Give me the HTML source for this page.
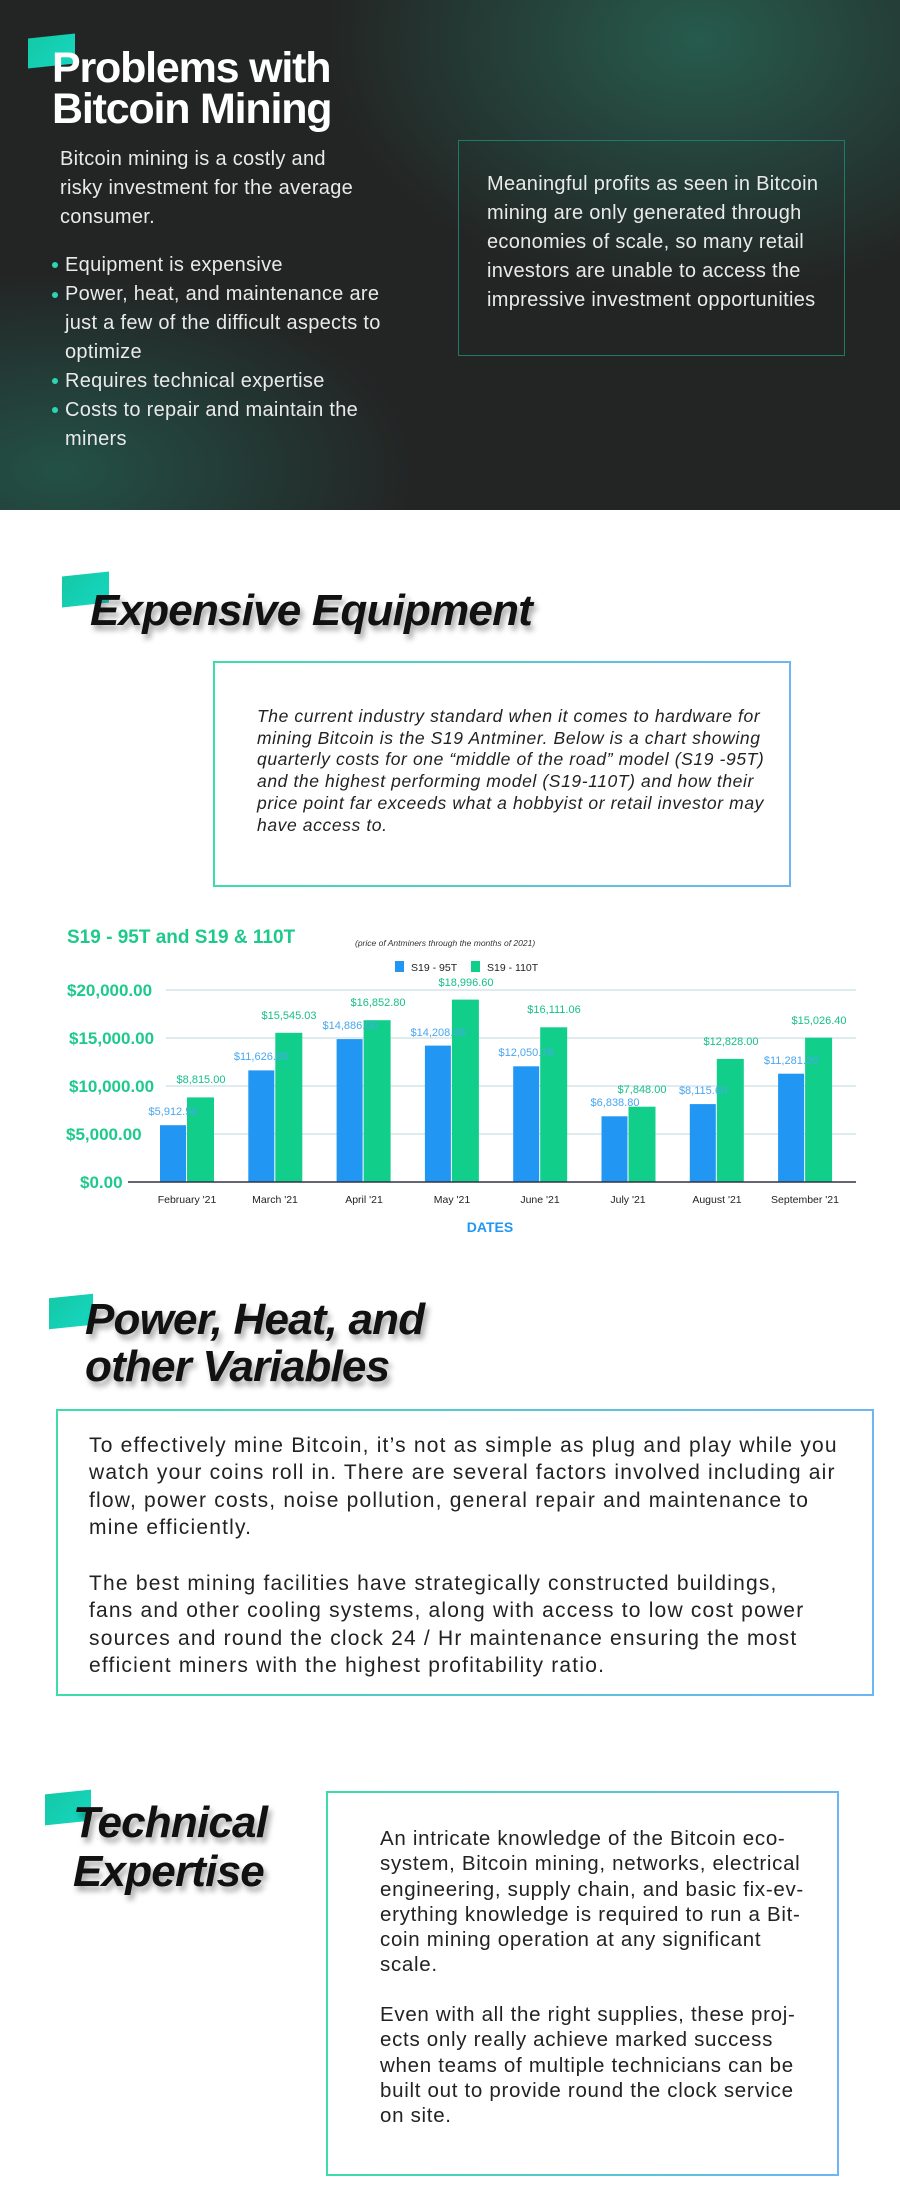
<!DOCTYPE html>
<html><head><meta charset="utf-8"><style>
*{margin:0;padding:0;box-sizing:border-box}
body{width:900px;height:2200px;position:relative;background:#fff;font-family:"Liberation Sans",sans-serif;overflow:hidden}
.a{position:absolute;white-space:nowrap}
.dark{position:absolute;left:0;top:0;width:900px;height:510px;background:
radial-gradient(ellipse 380px 260px at 700px 40px,rgba(40,110,90,.75),rgba(40,110,90,0) 100%),
radial-gradient(ellipse 360px 200px at 60px 470px,rgba(35,100,85,.7),rgba(35,100,85,0) 100%),#232424}
.t{color:#eaeaea;font-size:20px;letter-spacing:0.3px}
.h1{color:#fff;font-weight:bold;font-size:43px;letter-spacing:-1.2px}
.hh{color:#111;font-weight:bold;font-style:italic;font-size:44px;letter-spacing:-0.8px;text-shadow:3px 5px 6px rgba(0,0,0,.35)}
.box{position:absolute;border:2px solid;border-image:linear-gradient(90deg,#3ddcaa,#6cb6f5) 1}
.p{color:#222;font-size:21px;letter-spacing:1.2px}
.dot{position:absolute;width:6px;height:6px;border-radius:50%;background:#2ad6b4}
.tl{position:absolute;background:linear-gradient(135deg,#14c9a6,#16d6c0);transform:skewY(-6deg)}
</style></head><body>
<div class="dark"></div>
<div class="tl" style="left:28px;top:36px;width:47px;height:30px"></div>
<div class="a h1" style="left:52px;top:44px">Problems with</div>
<div class="a h1" style="left:52px;top:85px">Bitcoin Mining</div>
<div class="a t" style="left:60px;top:148px">Bitcoin mining is a costly and</div>
<div class="a t" style="left:60px;top:177px">risky investment for the average</div>
<div class="a t" style="left:60px;top:206px">consumer.</div>
<div class="dot" style="left:52px;top:262px"></div>
<div class="a t" style="left:65px;top:254px">Equipment is expensive</div>
<div class="dot" style="left:52px;top:292px"></div>
<div class="a t" style="left:65px;top:283px">Power, heat, and maintenance are</div>
<div class="a t" style="left:65px;top:312px">just a few of the difficult aspects to</div>
<div class="a t" style="left:65px;top:341px">optimize</div>
<div class="dot" style="left:52px;top:378px"></div>
<div class="a t" style="left:65px;top:370px">Requires technical expertise</div>
<div class="dot" style="left:52px;top:407px"></div>
<div class="a t" style="left:65px;top:399px">Costs to repair and maintain the</div>
<div class="a t" style="left:65px;top:428px">miners</div>
<div class="a" style="left:458px;top:140px;width:387px;height:216px;border:1.5px solid #1f7a66"></div>
<div class="a t" style="left:487px;top:173px">Meaningful profits as seen in Bitcoin</div>
<div class="a t" style="left:487px;top:202px">mining are only generated through</div>
<div class="a t" style="left:487px;top:231px">economies of scale, so many retail</div>
<div class="a t" style="left:487px;top:260px">investors are unable to access the</div>
<div class="a t" style="left:487px;top:289px">impressive investment opportunities</div>

<div class="tl" style="left:62px;top:574px;width:47px;height:31px"></div>
<div class="a hh" style="left:90px;top:586px">Expensive Equipment</div>
<div class="box" style="left:213px;top:661px;width:578px;height:226px"></div>
<div class="a" style="left:257px;top:706px;font-size:17.5px;font-style:italic;color:#222;line-height:21.7px;letter-spacing:0.6px">The current industry standard when it comes to hardware for<br>mining Bitcoin is the S19 Antminer. Below is a chart showing<br>quarterly costs for one “middle of the road” model (S19 -95T)<br>and the highest performing model (S19-110T) and how their<br>price point far exceeds what a hobbyist or retail investor may<br>have access to.</div>

<svg class="a" style="left:0;top:900px" width="900" height="340" viewBox="0 900 900 340" font-family="Liberation Sans, sans-serif">
<g stroke="#d4e6ec" stroke-width="1.5">
<line x1="166" y1="990" x2="856" y2="990"/><line x1="166" y1="1038" x2="856" y2="1038"/><line x1="166" y1="1086" x2="856" y2="1086"/><line x1="166" y1="1134" x2="856" y2="1134"/></g>
<g fill="#1ec98c" font-weight="bold" font-size="17">
<text x="67" y="943" font-size="19">S19 - 95T and S19 &amp; 110T</text>
<text x="67" y="996">$20,000.00</text><text x="69" y="1044">$15,000.00</text><text x="69" y="1092">$10,000.00</text><text x="66" y="1140">$5,000.00</text><text x="80" y="1188">$0.00</text></g>
<text x="355" y="946" font-size="8.5" font-style="italic" fill="#333">(price of Antminers through the months of 2021)</text>
<rect x="395" y="961" width="9" height="11" fill="#2196f3"/><text x="411" y="971" font-size="10.5" fill="#222">S19 - 95T</text>
<rect x="471" y="961" width="9" height="11" fill="#11cf8b"/><text x="487" y="971" font-size="10.5" fill="#222">S19 - 110T</text>
<g fill="#2196f3">
<rect x="160" y="1125.2" width="26" height="56.8"/>
<rect x="248.3" y="1070.4" width="26" height="111.6"/>
<rect x="336.6" y="1039.1" width="26" height="142.9"/>
<rect x="424.9" y="1045.6" width="26" height="136.4"/>
<rect x="513.2" y="1066.3" width="26" height="115.7"/>
<rect x="601.5" y="1116.3" width="26" height="65.7"/>
<rect x="689.8" y="1104.1" width="26" height="77.9"/>
<rect x="778.1" y="1073.7" width="26" height="108.3"/>
</g>
<g fill="#11cf8b">
<rect x="187" y="1097.4" width="27" height="84.6"/>
<rect x="275.3" y="1032.8" width="27" height="149.2"/>
<rect x="363.6" y="1020.2" width="27" height="161.8"/>
<rect x="451.9" y="999.6" width="27" height="182.4"/>
<rect x="540.2" y="1027.3" width="27" height="154.7"/>
<rect x="628.5" y="1106.7" width="27" height="75.3"/>
<rect x="716.8" y="1058.9" width="27" height="123.1"/>
<rect x="805.1" y="1037.7" width="27" height="144.3"/>
</g>
<line x1="128" y1="1182" x2="856" y2="1182" stroke="#334" stroke-width="1.5"/>
<g font-size="11" fill="#4aa6f0" text-anchor="middle">
<text x="173" y="1115">$5,912.50</text>
<text x="261" y="1060">$11,626.80</text>
<text x="350" y="1029">$14,886.00</text>
<text x="438" y="1036">$14,208.38</text>
<text x="526" y="1056">$12,050.76</text>
<text x="615" y="1106">$6,838.80</text>
<text x="703" y="1094">$8,115.60</text>
<text x="791" y="1064">$11,281.20</text>
</g>
<g font-size="11" fill="#16c086" text-anchor="middle">
<text x="201" y="1083">$8,815.00</text>
<text x="289" y="1019">$15,545.03</text>
<text x="378" y="1006">$16,852.80</text>
<text x="466" y="986">$18,996.60</text>
<text x="554" y="1013">$16,111.06</text>
<text x="642" y="1093">$7,848.00</text>
<text x="731" y="1045">$12,828.00</text>
<text x="819" y="1024">$15,026.40</text>
</g>
<g font-size="10.5" fill="#222" text-anchor="middle">
<text x="187" y="1203">February '21</text>
<text x="275" y="1203">March '21</text>
<text x="364" y="1203">April '21</text>
<text x="452" y="1203">May '21</text>
<text x="540" y="1203">June '21</text>
<text x="628" y="1203">July '21</text>
<text x="717" y="1203">August '21</text>
<text x="805" y="1203">September '21</text>
</g>
<text x="490" y="1232" font-size="14" font-weight="bold" fill="#2196f3" text-anchor="middle">DATES</text>
</svg>

<div class="tl" style="left:49px;top:1296px;width:44px;height:31px"></div>
<div class="a hh" style="left:85px;top:1295px">Power, Heat, and</div>
<div class="a hh" style="left:85px;top:1342px">other Variables</div>
<div class="box" style="left:56px;top:1409px;width:818px;height:287px"></div>
<div class="a p" style="left:89px;top:1432px;line-height:27.3px">To effectively mine Bitcoin, it’s not as simple as plug and play while you<br>watch your coins roll in. There are several factors involved including air<br>flow, power costs, noise pollution, general repair and maintenance to<br>mine efficiently.</div>
<div class="a p" style="left:89px;top:1570px;line-height:27.3px">The best mining facilities have strategically constructed buildings,<br>fans and other cooling systems, along with access to low cost power<br>sources and round the clock 24 / Hr maintenance ensuring the most<br>efficient miners with the highest profitability ratio.</div>

<div class="tl" style="left:45px;top:1792px;width:46px;height:31px"></div>
<div class="a hh" style="left:73px;top:1798px">Technical</div>
<div class="a hh" style="left:73px;top:1847px">Expertise</div>
<div class="box" style="left:326px;top:1791px;width:513px;height:385px"></div>
<div class="a p" style="left:380px;top:1826px;line-height:25.3px;font-size:20.5px;letter-spacing:0.7px">An intricate knowledge of the Bitcoin eco-<br>system, Bitcoin mining, networks, electrical<br>engineering, supply chain, and basic fix-ev-<br>erything knowledge is required to run a Bit-<br>coin mining operation at any significant<br>scale.</div>
<div class="a p" style="left:380px;top:2002px;line-height:25.3px;font-size:20.5px;letter-spacing:0.7px">Even with all the right supplies, these proj-<br>ects only really achieve marked success<br>when teams of multiple technicians can be<br>built out to provide round the clock service<br>on site.</div>
</body></html>
